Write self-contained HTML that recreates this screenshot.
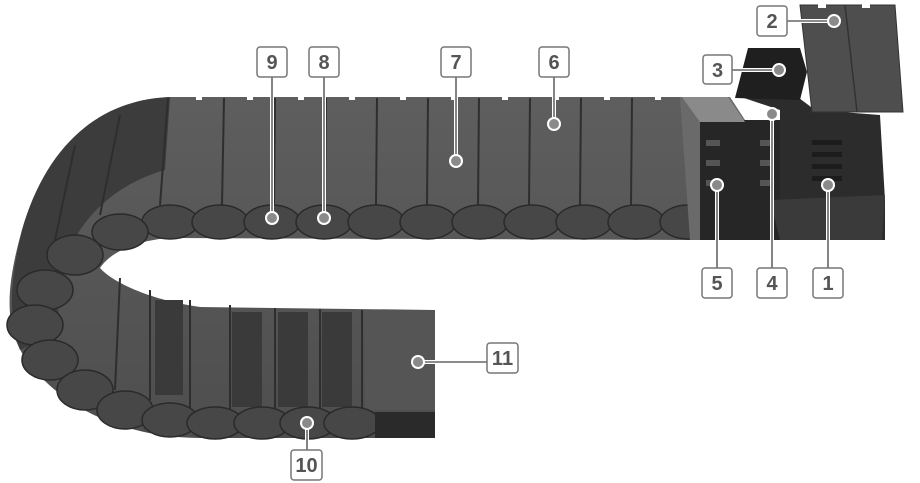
<!DOCTYPE html>
<html><head><style>html,body{margin:0;padding:0;background:#fff;width:920px;height:483px;overflow:hidden}</style></head>
<body>
<svg width="920" height="483" viewBox="0 0 920 483" xmlns="http://www.w3.org/2000/svg" font-family="Liberation Sans, sans-serif">
<defs>
<linearGradient id="cov" x1="0" y1="0" x2="0" y2="1"><stop offset="0" stop-color="#5e5e5e"/><stop offset="1" stop-color="#4e4e4e"/></linearGradient>
</defs>
<path d="M690,97 L170,97 C95,100 45,150 22,230 C5,290 4,330 28,362 C65,410 125,437 200,438 L435,438 L435,310 L200,307 C150,300 112,282 100,268 C112,250 140,240 170,238 L690,240 Z" fill="url(#cov)"/>
<path d="M170,97 C95,100 45,150 22,230 C10,280 8,320 20,350 L60,330 C55,300 60,260 80,230 C100,200 130,180 165,170 Z" fill="#3c3c3c"/>
<g fill="#fff"><rect x="196" y="97" width="6" height="3"/><rect x="247" y="97" width="6" height="3"/><rect x="298" y="97" width="6" height="3"/><rect x="349" y="97" width="6" height="3"/><rect x="400" y="97" width="6" height="3"/><rect x="451" y="97" width="6" height="3"/><rect x="502" y="97" width="6" height="3"/><rect x="553" y="97" width="6" height="3"/><rect x="604" y="97" width="6" height="3"/><rect x="655" y="97" width="6" height="3"/></g>
<g stroke="#2e2e2e" stroke-width="2">
<line x1="224" y1="98" x2="222" y2="205"/><line x1="275" y1="98" x2="274" y2="205"/><line x1="326" y1="98" x2="325" y2="205"/><line x1="377" y1="98" x2="376" y2="205"/><line x1="428" y1="98" x2="427" y2="205"/><line x1="479" y1="98" x2="478" y2="205"/><line x1="530" y1="98" x2="529" y2="205"/><line x1="581" y1="98" x2="580" y2="205"/><line x1="632" y1="98" x2="631" y2="205"/>
<line x1="168" y1="98" x2="160" y2="205"/><line x1="120" y1="115" x2="100" y2="215"/><line x1="75" y1="145" x2="55" y2="240"/>
<line x1="230" y1="305" x2="230" y2="410"/><line x1="275" y1="308" x2="275" y2="410"/><line x1="320" y1="309" x2="320" y2="410"/><line x1="362" y1="310" x2="362" y2="410"/><line x1="190" y1="300" x2="190" y2="410"/><line x1="150" y1="290" x2="150" y2="400"/><line x1="120" y1="278" x2="115" y2="390"/>
</g>
<g fill="#3a3a3a"><rect x="232" y="312" width="30" height="95"/><rect x="278" y="312" width="30" height="95"/><rect x="322" y="312" width="30" height="95"/><rect x="155" y="300" width="28" height="95"/></g>
<rect x="365" y="310" width="70" height="100" fill="#555"/>
<g fill="#474747" stroke="#2a2a2a" stroke-width="1.5">
<ellipse cx="170" cy="222" rx="28" ry="17"/><ellipse cx="220" cy="222" rx="28" ry="17"/><ellipse cx="272" cy="222" rx="28" ry="17"/><ellipse cx="324" cy="222" rx="28" ry="17"/><ellipse cx="376" cy="222" rx="28" ry="17"/><ellipse cx="428" cy="222" rx="28" ry="17"/><ellipse cx="480" cy="222" rx="28" ry="17"/><ellipse cx="532" cy="222" rx="28" ry="17"/><ellipse cx="584" cy="222" rx="28" ry="17"/><ellipse cx="636" cy="222" rx="28" ry="17"/><ellipse cx="688" cy="222" rx="28" ry="17"/>
<ellipse cx="120" cy="232" rx="28" ry="18"/><ellipse cx="75" cy="255" rx="28" ry="20"/><ellipse cx="45" cy="290" rx="28" ry="20"/><ellipse cx="35" cy="325" rx="28" ry="20"/><ellipse cx="50" cy="360" rx="28" ry="20"/><ellipse cx="85" cy="390" rx="28" ry="20"/><ellipse cx="125" cy="410" rx="28" ry="19"/><ellipse cx="170" cy="420" rx="28" ry="17"/><ellipse cx="215" cy="423" rx="28" ry="16"/><ellipse cx="262" cy="423" rx="28" ry="16"/><ellipse cx="308" cy="423" rx="28" ry="16"/><ellipse cx="352" cy="423" rx="28" ry="16"/>
</g>
<rect x="375" y="412" width="60" height="26" fill="#2a2a2a"/>
<path d="M680,97 L730,97 L745,120 L745,240 L690,240 Z" fill="#6a6a6a"/>
<rect x="700" y="120" width="90" height="120" fill="#262626"/>
<path d="M682,97 L728,97 L745,122 L700,122 Z" fill="#8a8a8a"/>
<g fill="#555"><rect x="706" y="140" width="14" height="6"/><rect x="706" y="160" width="14" height="6"/><rect x="706" y="180" width="14" height="6"/><rect x="760" y="140" width="14" height="6"/><rect x="760" y="160" width="14" height="6"/><rect x="760" y="180" width="14" height="6"/></g>
<path d="M735,95 L795,95 L815,110 L880,115 L885,200 L885,240 L780,240 L780,110 Z" fill="#2c2c2c"/>
<g fill="#1c1c1c"><rect x="812" y="140" width="30" height="5"/><rect x="812" y="152" width="30" height="5"/><rect x="812" y="164" width="30" height="5"/><rect x="812" y="176" width="30" height="5"/></g>
<path d="M770,200 L885,195 L882,240 L780,240 Z" fill="#3a3a3a"/>
<path d="M748,48 L800,48 L807,72 L800,100 L735,98 Z" fill="#1f1f1f"/>
<path d="M800,5 L895,5 L903,112 L812,112 Z" fill="#4e4e4e" stroke="#333"/>
<line x1="845" y1="5" x2="857" y2="112" stroke="#333" stroke-width="1.5"/>
<g fill="#fff"><rect x="818" y="4" width="8" height="4"/><rect x="862" y="4" width="8" height="4"/></g>
<g stroke="#fff" stroke-width="4" fill="none">
<path d="M272,77V218M324,77V218M456,77V161M554,77V124M717,268V185M772,268V114M828,268V185M787,21H834M732,70H779M487,362H418M307,450V423"/>
</g>
<g stroke="#666" stroke-width="1.6" fill="none">
<path d="M272,77V218M324,77V218M456,77V161M554,77V124M717,268V185M772,268V114M828,268V185M787,21H834M732,70H779M487,362H418M307,450V423"/>
</g>
<g fill="#8a8a8a" stroke="#fff" stroke-width="2">
<circle cx="272" cy="218" r="6"/><circle cx="324" cy="218" r="6"/><circle cx="456" cy="161" r="6"/><circle cx="554" cy="124" r="6"/><circle cx="717" cy="185" r="6"/><circle cx="772" cy="114" r="6"/><circle cx="828" cy="185" r="6"/><circle cx="834" cy="21" r="6"/><circle cx="779" cy="70" r="6"/><circle cx="418" cy="362" r="6"/><circle cx="307" cy="423" r="6"/>
</g>
<g fill="#fff" stroke="#777" stroke-width="1.5">
<rect x="257" y="47" width="30" height="30" rx="3"/><rect x="309" y="47" width="30" height="30" rx="3"/><rect x="441" y="47" width="30" height="30" rx="3"/><rect x="539" y="47" width="30" height="30" rx="3"/>
<rect x="757" y="6" width="30" height="30" rx="3"/><rect x="703" y="55" width="29" height="29" rx="3"/>
<rect x="702" y="268" width="30" height="30" rx="3"/><rect x="757" y="268" width="30" height="30" rx="3"/><rect x="813" y="268" width="30" height="30" rx="3"/>
<rect x="487" y="343" width="31" height="30" rx="3"/><rect x="291" y="450" width="31" height="30" rx="3"/>
</g>
<g fill="#555" font-size="20" font-weight="bold" text-anchor="middle">
<text x="272" y="69">9</text><text x="324" y="69">8</text><text x="456" y="69">7</text><text x="554" y="69">6</text>
<text x="772" y="28">2</text><text x="717.5" y="77">3</text>
<text x="717" y="290">5</text><text x="772" y="290">4</text><text x="828" y="290">1</text>
<text x="502.5" y="365">11</text><text x="306.5" y="472">10</text>
</g>
</svg>
</body></html>
